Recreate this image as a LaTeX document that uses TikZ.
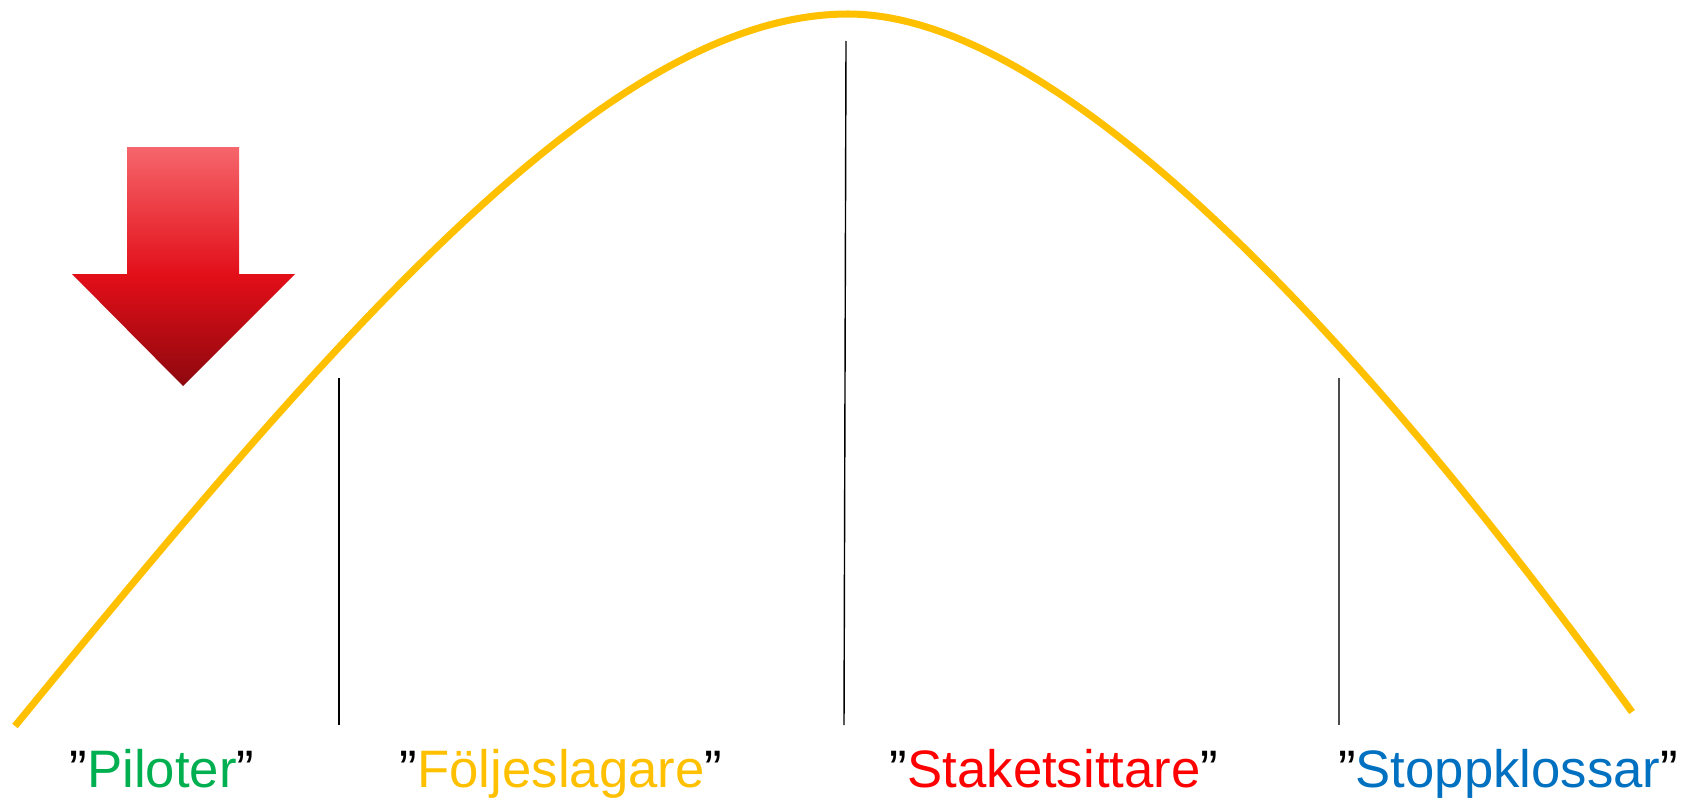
\documentclass[tikz,border=0pt]{standalone}
\usepackage{fontspec}
\setmainfont{Liberation Sans}
\usetikzlibrary{positioning}

\definecolor{oro}{RGB}{255,192,0}
\definecolor{verde}{RGB}{0,176,80}
\definecolor{rosso}{RGB}{255,0,0}
\definecolor{blu}{RGB}{0,112,192}
\definecolor{frecciaA}{RGB}{246,102,108}
\definecolor{frecciaB}{RGB}{226,14,24}
\definecolor{frecciaC}{RGB}{142,8,14}

% sfumatura verticale della freccia (scura in basso, rosa in alto)
\pgfdeclareverticalshading{frecciashade}{100bp}{color(0bp)=(frecciaC); color(25bp)=(frecciaC);
	color(48bp)=(frecciaB); color(75bp)=(frecciaA); color(100bp)=(frecciaA)}

\newcommand{\virg}{{\color{black}”}}

\begin{document}
\begin{tikzpicture}[
			x=0.02cm, y=-0.02cm,
			curva/.style={line width=4pt, line join=round, oro},
			divisore/.style={line width=0.8pt, black},
			freccia/.style={shading=frecciashade},
			etichetta/.style={inner sep=0pt, anchor=base, font=\fontsize{30}{36}\selectfont},
			]
			
			\useasboundingbox (0,0) rectangle (1689,808);
			
			\def\ybase{725}   % fondo dei divisori
			\def\ytxt{787}    % linea di base delle etichette
			
			%%═══ curva a campana ══════════════════════════════════════════
			\coordinate (inizio) at (15,726);
			\coordinate (cima) at (848,14);
			\coordinate (fine) at (1632,712);
			\draw[curva] (inizio) .. controls (332,339) and (608,14) .. (cima)
				.. controls (1064,14) and (1368,348) .. (fine);
			
			%%═══ divisori verticali ═══════════════════════════════════════
			\draw[divisore] (339,378) -- (339,\ybase);
			\draw[divisore] (846,41) -- (844,\ybase);
			\draw[divisore, black!70] (1339,378) -- (1339,\ybase);
			
			%%═══ freccia verso il basso ═══════════════════════════════════
			\shade[freccia] (127,147) -- (239,147) -- (239,274) -- (295,274)
				-- (183,386) -- (72,274) -- (127,274) -- cycle;
			
			%%═══ etichette ════════════════════════════════════════════════
			\node[etichetta, text=verde] (piloter) at (162,\ytxt) {\virg Piloter\virg};
			\node[etichetta, text=oro] (foljeslagare) at (561,\ytxt) {\virg Följeslagare\virg};
			\node[etichetta, text=rosso] (staketsittare) at (1054,\ytxt) {\virg Staketsittare\virg};
			\node[etichetta, text=blu] (stoppklossar) at (1508,\ytxt) {\virg Stoppklossar\virg};
			
		\end{tikzpicture}
\end{document}
